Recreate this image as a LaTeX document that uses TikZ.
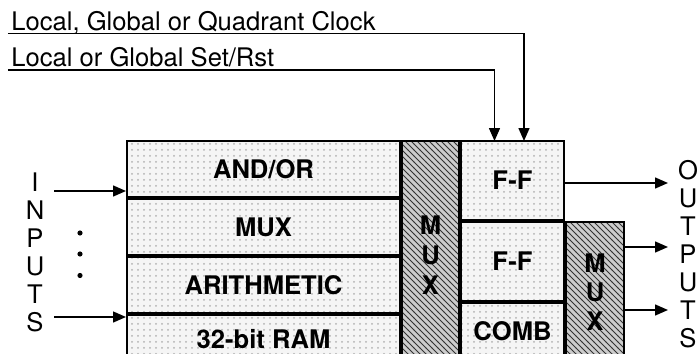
\documentclass[tikz,border=0pt]{standalone}
\usepackage{fontspec}
\setmainfont{TeX Gyre Heros}
\usetikzlibrary{positioning,arrows.meta,patterns}

\begin{document}
\begin{tikzpicture}[
  x=0.5pt, y=-0.5pt,
  cell/.style={draw, line width=1pt, preaction={fill=gray!8}, pattern=dots, pattern color=gray!60,
    font=\fontsize{12.8}{14}\selectfont\bfseries, inner sep=0pt},
  lrow/.style={cell, minimum width=136.5pt, minimum height=28pt},
  ffbox/.style={cell, minimum width=51.5pt, minimum height=39.5pt},
  mux/.style={draw, line width=1pt, preaction={fill=gray!40}, pattern=north west lines, pattern color=black!80,
    font=\fontsize{12.8}{15}\selectfont\bfseries, align=center, inner sep=0pt},
  vtxt/.style={font=\fontsize{12.8}{14}\selectfont, align=center, inner sep=0pt},
  sig/.style={font=\fontsize{12.8}{14}\selectfont, anchor=base west, inner xsep=1.5pt, inner ysep=1.5pt, text depth=0pt},
  arr/.style={line width=0.7pt, -{Triangle[length=6.5pt,width=5.5pt]}},
  dot/.style={circle, fill, inner sep=0pt, minimum size=2.6pt},
]
  \clip (0,0) rectangle (698,354);

  % logic rows
  \node[lrow] (andor) at (263.5,169) {AND/OR};
  \node[lrow, below=0pt of andor] (lmux) {MUX};
  \node[lrow, below=0pt of lmux] (arith) {ARITHMETIC};
  \node[lrow, below=0pt of arith, minimum height=24pt] (ram) {32-bit RAM};

  % first MUX column
  \node[mux, anchor=north west, minimum width=28.5pt, minimum height=114pt] (mux1) at (andor.north east) {M\\U\\X};

  % flip-flops and comb
  \node[ffbox, anchor=north west] (ff1) at (mux1.north east) {F-F};
  \node[ffbox, below=0pt of ff1] (ff2) {F-F};
  \node[ffbox, below=0pt of ff2, minimum height=28.5pt] (comb) {COMB};

  % second MUX column
  \node[mux, anchor=north west, minimum width=29pt, minimum height=70pt,
    font=\fontsize{12.8}{14.5}\selectfont\bfseries] (mux2) at (ff2.north east) {M\\U\\X};

  % inputs
  \node[vtxt] (inputs) at (35,252.5) {I\\N\\P\\U\\T\\S};
  \foreach \y in {233,254,275.5}
    \node[dot] at (80,\y) {};
  \coordinate (in1) at (54,191);
  \coordinate (in2) at (54,317);
  \draw[arr] (in1) -- (in1 -| andor.west);
  \draw[arr] (in2) -- (in2 -| ram.west);

  % outputs
  \node[vtxt] (outputs) at (688,254) {O\\U\\T\\P\\U\\T\\S};
  \coordinate (out1) at (668,183);
  \coordinate (out2) at (668,247);
  \coordinate (out3) at (668,310);
  \draw[arr] (out1 -| ff1.east) -- (out1);
  \draw[arr] (out2 -| mux2.east) -- (out2);
  \draw[arr] (out3 -| mux2.east) -- (out3);

  % clock and set/reset
  \node[sig] (clk) at (8,30) {Local, Global or Quadrant Clock};
  \node[sig] (rst) at (8,66.7) {Local or Global Set/Rst};
  \coordinate (clkin) at (524,141);
  \coordinate (rstin) at (494.5,141);
  \draw[arr] (clk.south west) -| (clkin);
  \draw[arr] (rst.south west) -| (rstin);
\end{tikzpicture}
\end{document}
